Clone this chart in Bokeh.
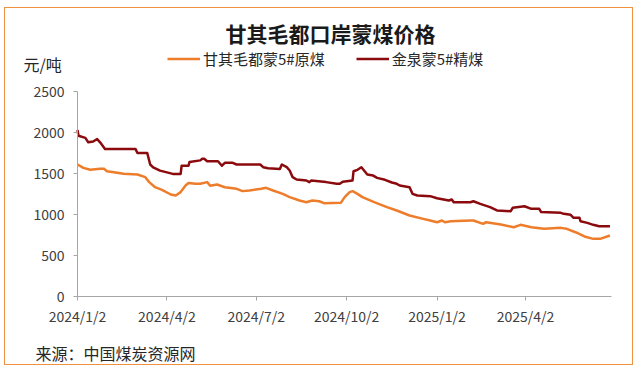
from datetime import datetime, timedelta
import pandas as pd
from bokeh.plotting import figure
from bokeh.models import (Range1d, FixedTicker, CustomJSTickFormatter, Label,
                          Legend, LegendItem, LinearAxis)
from bokeh.embed import file_html
from bokeh.resources import INLINE

# ---------------- data ----------------
title_text = "甘其毛都口岸蒙煤价格"
unit_text = "元/吨"
source_text = "来源：中国煤炭资源网"
series_names = ["甘其毛都蒙5#原煤", "金泉蒙5#精煤"]

raw_dates = ["2024-01-02", "2024-01-08", "2024-01-15", "2024-01-25", "2024-01-29",
             "2024-02-01", "2024-02-08", "2024-02-18", "2024-03-03", "2024-03-11",
             "2024-03-15", "2024-03-21", "2024-03-28", "2024-04-06", "2024-04-11",
             "2024-04-16", "2024-04-21", "2024-04-24", "2024-05-01", "2024-05-06",
             "2024-05-13", "2024-05-16", "2024-05-23", "2024-05-31", "2024-06-12",
             "2024-06-18", "2024-06-25", "2024-07-07", "2024-07-12", "2024-07-19",
             "2024-07-29", "2024-08-05", "2024-08-15", "2024-08-22", "2024-08-28",
             "2024-09-04", "2024-09-09", "2024-09-26", "2024-09-30", "2024-10-05",
             "2024-10-08", "2024-10-13", "2024-10-18", "2024-10-30", "2024-11-12",
             "2024-11-22", "2024-12-05", "2024-12-19", "2024-12-26", "2025-01-02",
             "2025-01-07", "2025-01-10", "2025-01-16", "2025-02-05", "2025-02-08",
             "2025-02-18", "2025-02-21", "2025-03-08", "2025-03-21", "2025-03-28",
             "2025-04-08", "2025-04-21", "2025-05-08", "2025-05-14", "2025-05-23",
             "2025-06-01", "2025-06-10", "2025-06-17", "2025-06-27"]
raw_values = [1610, 1569, 1545, 1557, 1557,
              1528, 1516, 1496, 1488, 1455,
              1395, 1333, 1300, 1244, 1232,
              1273, 1354, 1383, 1374, 1374,
              1395, 1350, 1366, 1333, 1313,
              1285, 1293, 1313, 1325, 1293,
              1252, 1212, 1171, 1150, 1171,
              1162, 1138, 1142, 1212, 1273,
              1285, 1252, 1212, 1150, 1090,
              1049, 988, 947, 927, 906,
              927, 906, 918, 927, 927,
              886, 906, 878, 845, 874,
              845, 825, 837, 825, 784,
              732, 703, 703, 744]

clean_dates = ["2024-01-02", "2024-01-03", "2024-01-10", "2024-01-13", "2024-01-18",
               "2024-01-22", "2024-01-25", "2024-01-30", "2024-03-01", "2024-03-03",
               "2024-03-13", "2024-03-16", "2024-03-19", "2024-03-26", "2024-03-31",
               "2024-04-08", "2024-04-16", "2024-04-17", "2024-04-24", "2024-04-25",
               "2024-05-06", "2024-05-08", "2024-05-10", "2024-05-13", "2024-05-24",
               "2024-05-28", "2024-05-31", "2024-06-08", "2024-06-12", "2024-07-06",
               "2024-07-09", "2024-07-14", "2024-07-26", "2024-07-28", "2024-08-02",
               "2024-08-05", "2024-08-08", "2024-08-12", "2024-08-22", "2024-08-25",
               "2024-08-27", "2024-09-11", "2024-09-22", "2024-09-25", "2024-09-28",
               "2024-10-08", "2024-10-09", "2024-10-13", "2024-10-17", "2024-10-23",
               "2024-10-29", "2024-11-02", "2024-11-10", "2024-11-17", "2024-11-22",
               "2024-11-25", "2024-12-05", "2024-12-08", "2024-12-13", "2024-12-26",
               "2025-01-02", "2025-01-14", "2025-01-17", "2025-01-19", "2025-02-05",
               "2025-02-08", "2025-02-15", "2025-02-25", "2025-03-04", "2025-03-18",
               "2025-03-20", "2025-04-01", "2025-04-08", "2025-04-16", "2025-04-18",
               "2025-05-08", "2025-05-11", "2025-05-18", "2025-05-21", "2025-05-27",
               "2025-05-28", "2025-06-04", "2025-06-10", "2025-06-16", "2025-06-27"]
clean_values = [2030, 1960, 1935, 1880, 1890,
                1920, 1880, 1800, 1800, 1750,
                1750, 1610, 1575, 1535, 1520,
                1495, 1495, 1595, 1595, 1640,
                1660, 1680, 1680, 1650, 1650,
                1595, 1630, 1630, 1610, 1610,
                1577, 1565, 1555, 1610, 1577,
                1537, 1455, 1427, 1415, 1395,
                1415, 1395, 1374, 1374, 1400,
                1415, 1528, 1545, 1577, 1488,
                1475, 1447, 1423, 1390, 1374,
                1354, 1333, 1252, 1232, 1224,
                1199, 1171, 1183, 1150, 1150,
                1162, 1130, 1090, 1049, 1040,
                1081, 1101, 1069, 1069, 1029,
                1020, 1008, 996, 960, 960,
                918, 898, 874, 857, 857]

y_ticks = [0, 500, 1000, 1500, 2000, 2500]
x_tick_dates = ["2024-01-02", "2024-04-02", "2024-07-02", "2024-10-02",
                "2025-01-02", "2025-04-02"]

# ---------------- layout ----------------
ORANGE = "#EE7D2B"
DARKRED = "#8B0A0E"
FONT = "Noto Sans CJK SC"

W, H = 629, 358
# axis area inside the canvas (pixels)
AX_LEFT, AX_RIGHT = 72, 606
AX_TOP, AX_BOTTOM = 83, 288

x0 = datetime(2024, 1, 2)
x1 = datetime(2025, 6, 28, 14)
y0, y1 = 0, 2500

span_days = (x1 - x0).total_seconds() / 86400
px_day = (AX_RIGHT - AX_LEFT) / span_days
px_val = (AX_BOTTOM - AX_TOP) / (y1 - y0)

xr = Range1d(x0 - timedelta(days=AX_LEFT / px_day),
             x1 + timedelta(days=(W - AX_RIGHT) / px_day))
yr = Range1d(y0 - (H - AX_BOTTOM) / px_val, y1 + AX_TOP / px_val)

p = figure(width=W, height=H, output_backend="svg", toolbar_location=None,
           x_range=xr, y_range=yr, x_axis_type=None, y_axis_type=None,
           min_border=0)
p.styles = {"border": "1px solid #F0913F", "position": "absolute",
            "left": "4px", "top": "7px"}
p.background_fill_color = "white"
p.border_fill_color = "white"
p.outline_line_color = None
p.grid.visible = False

ms = lambda d: pd.Timestamp(d).value / 1e6

xa = LinearAxis(fixed_location=0, bounds=(ms(x0), ms(x1)))
xa.ticker = FixedTicker(ticks=[ms(d) for d in x_tick_dates])
xa.formatter = CustomJSTickFormatter(code="""
const d = new Date(tick);
return d.getUTCFullYear() + "/" + (d.getUTCMonth() + 1) + "/" + d.getUTCDate();
""")
ya = LinearAxis(fixed_location=ms(x0), bounds=(y0, y1))
ya.ticker = FixedTicker(ticks=y_ticks)
p.add_layout(xa, "below")
p.add_layout(ya, "left")

for ax in (xa, ya):
    ax.axis_line_color = "#A6A6A6"
    ax.major_tick_line_color = "#A6A6A6"
    ax.minor_tick_line_color = None
    ax.major_tick_in = 0
    ax.major_tick_out = 4
    ax.major_label_text_font = FONT
    ax.major_label_text_font_size = "14px"
    ax.major_label_text_color = "#404040"
ya.major_label_standoff = 9
xa.major_label_standoff = 5

r1 = p.line(pd.to_datetime(raw_dates), raw_values, line_color=ORANGE,
            line_width=2.5, line_join="round")
r2 = p.line(pd.to_datetime(clean_dates), clean_values, line_color=DARKRED,
            line_width=2.5, line_join="round")

legend = Legend(items=[LegendItem(label=series_names[0], renderers=[r1]),
                       LegendItem(label=series_names[1], renderers=[r2])],
                orientation="horizontal", location=(162, 297),
                padding=0, margin=0, spacing=31, glyph_width=33,
                glyph_height=15, label_height=15, label_standoff=3,
                border_line_color=None, background_fill_alpha=0,
                label_text_font=FONT, label_text_font_size="15px",
                label_text_color="#262626")
p.add_layout(legend, "center")

p.add_layout(Label(x=325, y=334, x_units="screen", y_units="screen",
                   text=title_text, text_font=FONT, text_font_size="21px",
                   text_font_style="bold", text_align="center",
                   text_baseline="middle", text_color="#1A1A1A"))
p.add_layout(Label(x=18, y=303, x_units="screen", y_units="screen",
                   text=unit_text, text_font=FONT, text_font_size="16px",
                   text_align="left", text_baseline="middle",
                   text_color="#262626"))
p.add_layout(Label(x=30, y=14, x_units="screen", y_units="screen",
                   text=source_text, text_font=FONT, text_font_size="16px",
                   text_align="left", text_baseline="middle",
                   text_color="#262626"))

open("out.html", "w").write(file_html(p, INLINE))
